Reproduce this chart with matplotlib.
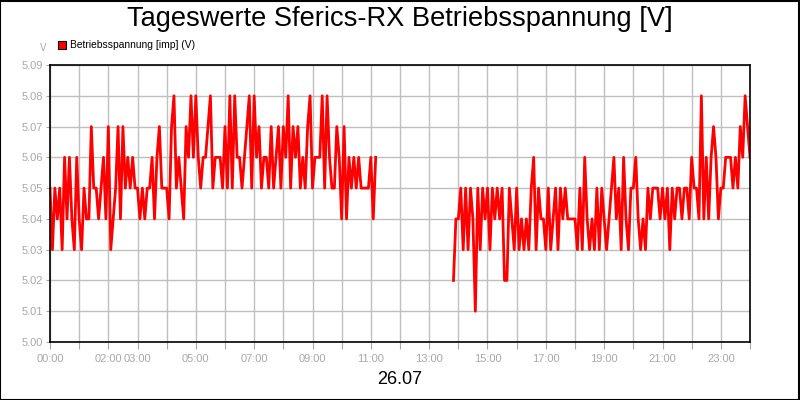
import numpy as np
import matplotlib.pyplot as plt
from matplotlib.patches import Rectangle

# readings in 1/100 V, 5-minute samples
seg1_start = "00:00"
seg1 = [505, 503, 505, 504, 505, 503, 506, 504, 506, 504, 503, 506,
        504, 503, 505, 504, 504, 507, 505, 505, 504, 505, 506, 504,
        507, 503, 504, 505, 507, 504, 507, 505, 506, 505, 506, 505,
        505, 504, 505, 504, 505, 505, 506, 504, 506, 507, 505, 505,
        505, 504, 507, 508, 505, 506, 505, 504, 507, 506, 508, 506,
        508, 506, 505, 506, 506, 507, 508, 505, 506, 506, 506, 505,
        507, 505, 508, 505, 508, 506, 506, 505, 506, 507, 508, 505,
        508, 506, 507, 505, 506, 506, 505, 507, 505, 506, 507, 505,
        507, 506, 508, 505, 507, 506, 507, 505, 506, 505, 507, 508,
        505, 506, 506, 506, 508, 505, 508, 506, 505, 505, 507, 506,
        504, 507, 504, 506, 505, 506, 505, 506, 505, 505, 505, 505,
        506, 504, 506]

seg2_start = "13:50"
seg2 = [502, 504,
        504, 505, 503, 505, 503, 505, 504, 501, 505, 503, 505, 504,
        505, 503, 505, 504, 505, 504, 505, 502, 502, 505, 504, 503,
        505, 503, 504, 503, 504, 503, 505, 506, 503, 505, 504, 504,
        503, 505, 503, 504, 505, 503, 505, 504, 505, 504, 504, 504,
        504, 503, 505, 503, 506, 504, 503, 504, 503, 505, 503, 505,
        504, 503, 504, 505, 506, 504, 505, 503, 506, 504, 503, 505,
        505, 506, 504, 503, 504, 503, 505, 504, 505, 505, 505, 504,
        505, 504, 505, 503, 505, 504, 505, 505, 504, 505, 505, 504,
        506, 505, 505, 504, 508, 504, 506, 504, 506, 507, 506, 504,
        505, 505, 506, 506, 506, 505, 506, 505, 507, 506, 508, 507, 506]

hour_labels = ["00:00", "", "02:00", "03:00", "", "05:00", "", "07:00", "", "09:00", "",
               "11:00", "", "13:00", "", "15:00", "", "17:00", "", "19:00", "",
               "21:00", "", "23:00", ""]
day_label = "26.07"


def hours_of(start, n):
    h, m = start.split(":")
    t0 = int(h) * 60 + int(m)
    return (t0 + 5 * np.arange(n)) / 60.0


t1 = hours_of(seg1_start, len(seg1))
t2 = hours_of(seg2_start, len(seg2))
v1 = np.array(seg1) / 100.0
v2 = np.array(seg2) / 100.0

fnt = ['Liberation Sans', 'DejaVu Sans']
narrow = ['Liberation Sans Narrow', 'Liberation Sans', 'DejaVu Sans']
grey = '#a8a8a8'

fig = plt.figure(figsize=(8, 4), dpi=100)
fig.patch.set_facecolor('white')
fig.add_artist(Rectangle((0.0005, 0.001), 0.998, 0.997, transform=fig.transFigure,
                         fill=False, edgecolor='black', linewidth=1.5))

ax = fig.add_axes([0.0625, 0.145, 0.875, 0.6925])
ax.plot(t1, v1, color='#ff0000', lw=2)
ax.plot(t2, v2, color='#ff0000', lw=2)

ax.set_xlim(0, 24)
ax.set_ylim(5.0, 5.09)
ax.set_xticks(np.arange(0, 25))
ax.set_xticklabels(hour_labels, family=narrow, fontsize=8, color=grey)
yt = np.arange(0, 10) / 100.0 + 5.0
ax.set_yticks(yt)
ax.set_yticklabels(["%.2f" % y for y in yt], family=narrow, fontsize=8, color=grey)
ax.tick_params(axis='x', direction='out', length=5, color=grey, pad=4)
ax.tick_params(axis='y', direction='out', length=3, color=grey, pad=2)
ax.grid(True, color='#bfbfbf', lw=1)
ax.set_axisbelow(True)
for s in ax.spines.values():
    s.set_color('black')
    s.set_linewidth(1.2)

fig.text(0.5, 0.952, "Tageswerte Sferics-RX Betriebsspannung [V]", ha='center', va='center',
         fontsize=19.6, family=fnt)
fig.text(0.5, 0.052, day_label, ha='center', va='center', fontsize=13, family=fnt)
fig.text(0.054, 0.879, "V", ha='center', va='center', fontsize=7, color=grey, family=fnt)
fig.add_artist(Rectangle((0.0725, 0.877), 0.01, 0.02, transform=fig.transFigure,
                         facecolor='#ff0000', edgecolor='black', linewidth=0.8))
fig.text(0.087, 0.887, "Betriebsspannung [imp] (V)", ha='left', va='center', fontsize=7.4,
         family=fnt)

fig.savefig("out.png", dpi=100)
plt.close(fig)
